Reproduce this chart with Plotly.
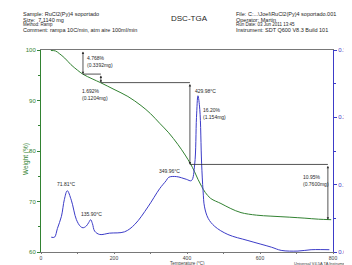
import plotly.graph_objects as go

# ---- data ----
tga_temp = [27, 40, 50, 65, 82, 100, 115, 140, 164, 200, 238, 274, 300, 325, 350, 375, 395,
            410, 420, 430, 440, 450, 465, 493, 520, 548, 590, 630, 680, 723, 760, 795]
tga_weight = [99.9, 99.8, 99.3, 98.4, 97.1, 96.0, 95.2, 94.3, 93.5, 92.2, 90.8, 89.0, 87.4, 85.5,
              83.6, 81.3, 79.2, 77.4, 76.0, 74.4, 73.0, 71.8, 70.6, 69.6, 68.6, 67.8, 67.3, 67.1,
              66.9, 66.7, 66.5, 66.4]

dtg_temp = [28, 37, 45, 56, 64, 72, 83, 97, 108, 115, 124, 131, 136, 141, 147, 161, 188, 229, 257,
            293, 325, 343, 350, 371, 398, 412, 421, 426, 430, 435, 440, 444, 448, 458, 476, 512,
            567, 631, 658, 704, 740, 765, 790]
dtg_deriv = [0.022, 0.022, 0.035, 0.053, 0.078, 0.091, 0.077, 0.048, 0.038, 0.036, 0.0385, 0.044,
             0.048, 0.042, 0.031, 0.026, 0.028, 0.030, 0.041, 0.067, 0.094, 0.106, 0.111, 0.112,
             0.108, 0.106, 0.130, 0.200, 0.232, 0.212, 0.132, 0.091, 0.067, 0.050, 0.038, 0.026,
             0.017, 0.0072, 0.0024, 0.0014, 0.0034, 0.0036, 0.0034]

# weight-step analysis: (temperature of step, level before, level after)
step_temps = [115, 164, 408, 786]
step_from = [100.0, 95.232, 93.540, 77.340]
step_to = [95.232, 93.540, 77.340, 66.390]
step_labels = ["4.768%<br>(0.3392mg)", "1.692%<br>(0.1204mg)", "16.20%<br>(1.154mg)", "10.95%<br>(0.7600mg)"]

peak_labels = ["71.81°C", "135.90°C", "349.96°C", "429.98°C"]

x_ticks = [0, 200, 400, 600, 800]
y_ticks = [60, 70, 80, 90, 100]
y2_ticks = [0.0, 0.1, 0.2, 0.3]

GREEN = "rgb(50,130,50)"
BLUE = "rgb(60,60,200)"
GRAY = "rgb(120,120,120)"
FONT = "Liberation Sans, Arial, sans-serif"

fig = go.Figure()
fig.add_trace(go.Scatter(x=tga_temp, y=tga_weight, mode="lines", line=dict(color=GREEN, width=1),
                         line_shape="spline", showlegend=False, hoverinfo="skip"))
fig.add_trace(go.Scatter(x=dtg_temp, y=dtg_deriv, mode="lines", line=dict(color=BLUE, width=1),
                         line_shape="spline", yaxis="y2", showlegend=False, hoverinfo="skip"))

shapes = []
# horizontal step-level lines
for i in range(1, len(step_temps)):
    shapes.append(dict(type="line", xref="x", yref="y", x0=step_temps[i - 1], x1=step_temps[i],
                       y0=step_from[i], y1=step_from[i], line=dict(color="rgb(40,40,40)", width=0.8)))

annotations = []
# vertical double-headed arrows for steps
for t, a, b in zip(step_temps, step_from, step_to):
    annotations.append(dict(x=t, y=b, ax=t, ay=a, xref="x", yref="y", axref="x", ayref="y",
                            showarrow=True, arrowhead=2, arrowside="end+start", arrowsize=0.6,
                            arrowwidth=0.8, arrowcolor="rgb(40,40,40)", text=""))

small = dict(family=FONT, size=5, color="rgb(40,40,40)")
# step labels
for txt, (x, y) in zip(step_labels, [(120, 99.4), (108, 92.8), (438, 89.2), (712, 75.9)]):
    annotations.append(dict(x=x, y=y, xref="x", yref="y", text=txt, showarrow=False,
                            xanchor="left", yanchor="top", align="left", font=small))
# peak labels
for txt, (x, y, xa) in zip(peak_labels, [(71, 73.5, "center"), (137, 67.5, "center"),
                                          (351, 76.0, "center"), (416, 91.9, "left")]):
    annotations.append(dict(x=x, y=y, xref="x", yref="y", text=txt, showarrow=False,
                            xanchor=xa, yanchor="middle", font=small))

hdr = dict(family=FONT, size=5.5, color="rgb(30,30,30)")
left_hdr = ["Sample: RuCl2(Py)4 soportado", "Size:  7.1140 mg", "Method: Ramp",
            "Comment: rampa 10C/min, atm aire 100ml/min"]
right_hdr = ["File: C:...\\Joel\\RuCl2(Py)4 soportado.001", "Operator: Martin",
             "Run Date: 03 Jun 2011 13:45", "Instrument: SDT Q600 V8.3 Build 101"]
ys = [1.178, 1.150, 1.125, 1.097]
for i, (l, r) in enumerate(zip(left_hdr, right_hdr)):
    f = dict(hdr)
    if i == 2:
        f["size"] = 4.5
    annotations.append(dict(x=-0.068, y=ys[i], xref="paper", yref="paper", text=l, showarrow=False,
                            xanchor="left", yanchor="middle", font=f))
    annotations.append(dict(x=0.661, y=ys[i], xref="paper", yref="paper", text=r, showarrow=False,
                            xanchor="left", yanchor="middle", font=f))
annotations.append(dict(x=0.51, y=1.155, xref="paper", yref="paper", text="DSC-TGA", showarrow=False,
                        xanchor="center", yanchor="middle",
                        font=dict(family=FONT, size=8, color="rgb(30,30,30)")))

# axis titles
annotations.append(dict(x=-0.072, y=0.46, xref="paper", yref="paper", text="Weight (%)", textangle=-90,
                        showarrow=False, font=dict(family=FONT, size=6.5, color=GREEN)))
annotations.append(dict(x=1.07, y=0.6, xref="paper", yref="paper", text="Deriv. Weight (%/°C)",
                        textangle=-90, showarrow=False, font=dict(family=FONT, size=5.5, color=BLUE)))
annotations.append(dict(x=0.5, y=-0.078, xref="paper", yref="paper", text="Temperature (°C)",
                        showarrow=False, xanchor="center", yanchor="bottom",
                        font=dict(family=FONT, size=4.5, color="rgb(60,60,60)")))
annotations.append(dict(x=0.86, y=-0.078, xref="paper", yref="paper", text="Universal V4.5A TA Instruments",
                        showarrow=False, xanchor="left", yanchor="bottom",
                        font=dict(family=FONT, size=4, color="rgb(60,60,60)")))

fig.update_layout(
    width=352, height=265, margin=dict(l=33, r=27, t=42, b=15),
    paper_bgcolor="white", plot_bgcolor="white", showlegend=False,
    shapes=shapes, annotations=annotations,
    xaxis=dict(range=[0, 800], tickvals=x_ticks, ticks="outside", ticklen=1, tickcolor=GRAY,
               showgrid=False, zeroline=False, showline=True, linecolor=GRAY, linewidth=1, mirror=True,
               tickfont=dict(family=FONT, size=5, color="rgb(60,60,60)"),
               minor=dict(dtick=100, ticks="outside", ticklen=1, tickcolor=GRAY)),
    yaxis=dict(range=[60, 100], tickvals=y_ticks, ticks="outside", ticklen=3, tickcolor=GREEN,
               showgrid=False, zeroline=False, showline=True, linecolor=GREEN, linewidth=1,
               tickfont=dict(family=FONT, size=6, color=GREEN),
               minor=dict(dtick=5, ticks="outside", ticklen=2, tickcolor=GREEN)),
    yaxis2=dict(range=[0, 0.3], tickvals=y2_ticks, tickformat=".1f", overlaying="y", side="right",
                ticks="outside", ticklen=3, tickcolor=BLUE, showgrid=False, zeroline=False,
                showline=True, linecolor=BLUE, linewidth=1,
                tickfont=dict(family=FONT, size=6, color=BLUE),
                minor=dict(dtick=0.05, ticks="outside", ticklen=2, tickcolor=BLUE)),
)

fig.write_html("out.html")
